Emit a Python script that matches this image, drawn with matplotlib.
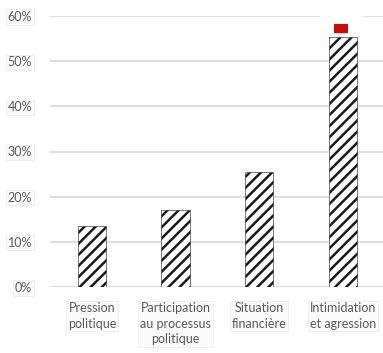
import matplotlib
matplotlib.use("Agg")
import matplotlib.pyplot as plt
from matplotlib.patches import Patch
from matplotlib.ticker import PercentFormatter

categories = ["Pression\npolitique", "Participation\nau processus\npolitique",
              "Situation\nfinancière", "Intimidation\net agression"]
values = [13.5, 17.0, 25.4, 55.3]
yticks = [0, 10, 20, 30, 40, 50, 60]

plt.rcParams["font.family"] = ["Lato", "DejaVu Sans"]
plt.rcParams["hatch.linewidth"] = 1.8
plt.rcParams["hatch.color"] = "#1a1a1a"

fig = plt.figure(figsize=(3.83, 3.53), dpi=100)
ax = fig.add_axes([50 / 383, (353 - 287) / 353, 333 / 383, 271 / 353])

x = range(len(categories))
ax.bar(x, values, width=0.34, color="white", edgecolor="#1a1a1a",
       linewidth=0.4, hatch="///", zorder=3)

ax.set_xlim(-0.5, 3.48)
ax.set_ylim(0, 60)
ax.set_yticks(yticks)
ax.yaxis.set_major_formatter(PercentFormatter(decimals=0))
ax.set_xticks(list(x))
ax.set_xticklabels(categories, linespacing=1.35)

for sp in ax.spines.values():
    sp.set_visible(False)
ax.yaxis.grid(True, color="#dedede", linewidth=1.6, zorder=0)
ax.set_axisbelow(True)
ax.tick_params(axis="both", length=0, colors="#595959", labelsize=9)
ax.tick_params(axis="y", pad=13)
ax.tick_params(axis="x", pad=11)

box = dict(facecolor="#fbfbfb", edgecolor="#ececec", linewidth=0.6, pad=1.2)
for lab in ax.get_xticklabels() + ax.get_yticklabels():
    lab.set_bbox(box)

leg = ax.legend(handles=[Patch(facecolor="#c80a0a", edgecolor="none")], labels=[""],
                loc="upper left", bbox_to_anchor=(320 / 383, 1 - 9 / 353),
                bbox_transform=fig.transFigure, frameon=True, fancybox=False,
                handlelength=1.15, handleheight=0.8, handletextpad=0,
                borderpad=1.1, borderaxespad=0, fontsize=9)
leg.get_frame().set_facecolor("white")
leg.get_frame().set_edgecolor("white")
leg.get_frame().set_alpha(1)
leg.set_zorder(2.5)

fig.savefig("out.png", dpi=100)
